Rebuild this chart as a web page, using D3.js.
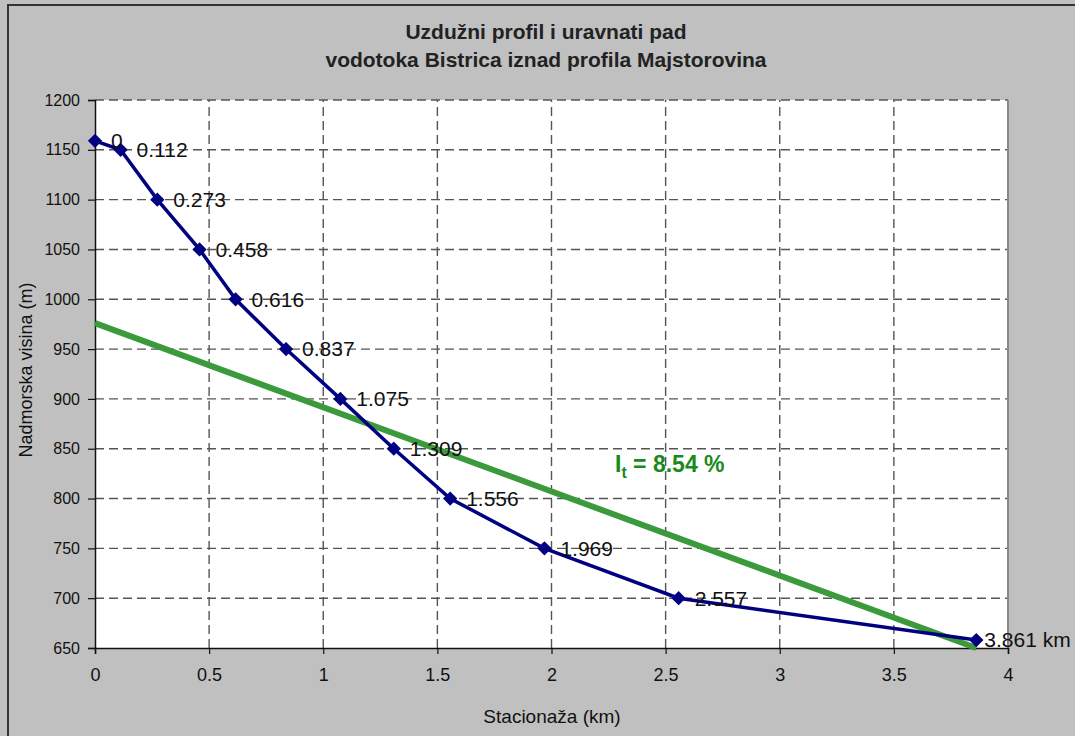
<!DOCTYPE html>
<html>
<head>
<meta charset="utf-8">
<script src="https://cdn.jsdelivr.net/npm/d3@7"></script>
<style>
  body { margin: 0; background: #c0c0c0; }
  svg { display: block; font-family: Arial, "Liberation Sans", sans-serif; }
</style>
</head>
<body>
<svg></svg>
<script>
// stacionaza (km) and elevation (m)
var stations = [0, 0.112, 0.273, 0.458, 0.616, 0.837, 1.075, 1.309, 1.556, 1.969, 2.557, 3.861];
var elevations = [1159, 1150, 1100, 1050, 1000, 950, 900, 850, 800, 750, 700, 658];
var pointLabels = ["0", "0.112", "0.273", "0.458", "0.616", "0.837", "1.075", "1.309", "1.556", "1.969", "2.557", "3.861 km"];

// equalized slope line
var slopeX = [0, 3.861];
var slopeY = [976, 650];

var xTicks = [0, 0.5, 1, 1.5, 2, 2.5, 3, 3.5, 4];
var yTicks = [650, 700, 750, 800, 850, 900, 950, 1000, 1050, 1100, 1150, 1200];

var width = 1075;
var height = 736;

var svg = d3.select("svg")
        .attr("width", width)
        .attr("height", height);

var padding = {
  left: 95,
  right: 67,
  top: 100,
  bottom: 88
};

// chart frame
svg.append("rect")
   .attr("x", 8).attr("y", 5)
   .attr("width", width).attr("height", height)
   .attr("fill", "#c0c0c0")
   .attr("stroke", "#333")
   .attr("stroke-width", 2);

var xScale = d3.scaleLinear()
               .domain([0, 4])
               .range([padding.left, width - padding.right]);

var yScale = d3.scaleLinear()
               .domain([650, 1200])
               .range([height - padding.bottom, padding.top]);

// plot area
svg.append("rect")
   .attr("x", xScale(0)).attr("y", yScale(1200))
   .attr("width", xScale(4) - xScale(0))
   .attr("height", yScale(650) - yScale(1200))
   .attr("fill", "white");

// grid
svg.append("g")
   .selectAll("line")
   .data(yTicks.slice(1))
   .enter()
   .append("line")
   .attr("x1", xScale(0)).attr("x2", xScale(4))
   .attr("y1", function(d){ return yScale(d); })
   .attr("y2", function(d){ return yScale(d); })
   .attr("stroke", "#555")
   .attr("stroke-width", 1.4)
   .attr("stroke-dasharray", "9,5");

svg.append("g")
   .selectAll("line")
   .data(xTicks.slice(1, -1))
   .enter()
   .append("line")
   .attr("y1", yScale(650)).attr("y2", yScale(1200))
   .attr("x1", function(d){ return xScale(d); })
   .attr("x2", function(d){ return xScale(d); })
   .attr("stroke", "#555")
   .attr("stroke-width", 1.4)
   .attr("stroke-dasharray", "9,5");

// right border of plot area
svg.append("line")
   .attr("x1", xScale(4)).attr("x2", xScale(4))
   .attr("y1", yScale(650)).attr("y2", yScale(1200))
   .attr("stroke", "#888")
   .attr("stroke-width", 2);

// axes
var xAxis = d3.axisBottom()
              .scale(xScale)
              .tickValues(xTicks)
              .tickFormat(d3.format(""))
              .tickSizeOuter(0)
              .tickSize(6)
              .tickPadding(14);

var yAxis = d3.axisLeft()
              .scale(yScale)
              .tickValues(yTicks)
              .tickFormat(d3.format("d"))
              .tickSizeOuter(0)
              .tickSize(7)
              .tickPadding(8);

var gx = svg.append("g")
   .attr("transform", "translate(0," + yScale(650) + ")")
   .call(xAxis);

var gy = svg.append("g")
   .attr("transform", "translate(" + xScale(0) + ",0)")
   .call(yAxis);

[gx, gy].forEach(function(g){
  g.selectAll("path").attr("stroke", "#111").attr("stroke-width", 1.5);
  g.selectAll("line").attr("stroke", "#111").attr("stroke-width", 1.2);
  g.selectAll("text").attr("font-size", 16).attr("fill", "#111")
   .attr("font-family", "Arial, 'Liberation Sans', sans-serif");
});
gx.selectAll("text").attr("font-size", 18);

// slope line
var slopeLine = d3.line()
                  .x(function(d){ return xScale(d[0]); })
                  .y(function(d){ return yScale(d[1]); });

svg.append("path")
   .datum(d3.zip(slopeX, slopeY))
   .attr("d", slopeLine)
   .attr("fill", "none")
   .attr("stroke", "#3b9a3b")
   .attr("stroke-width", 6);

// profile
var data = stations.map(function(s, i){
  return {x: s, y: elevations[i], label: pointLabels[i]};
});

var line = d3.line()
             .x(function(d){ return xScale(d.x); })
             .y(function(d){ return yScale(d.y); });

svg.append("path")
   .datum(data)
   .attr("d", line)
   .attr("fill", "none")
   .attr("stroke", "#000080")
   .attr("stroke-width", 3.5);

svg.selectAll(".marker")
   .data(data)
   .enter()
   .append("path")
   .attr("class", "marker")
   .attr("d", d3.symbol().type(d3.symbolDiamond2).size(130))
   .attr("transform", function(d){ return "translate(" + xScale(d.x) + "," + yScale(d.y) + ")"; })
   .attr("fill", "#000080");

// last label pulled in so it fits at the right edge
svg.selectAll(".plabel")
   .data(data)
   .enter()
   .append("text")
   .attr("class", "plabel")
   .attr("x", function(d, i){ return xScale(d.x) + (i == data.length - 1 ? 8 : 16); })
   .attr("y", function(d){ return yScale(d.y); })
   .attr("dy", "0.35em")
   .attr("font-size", 21)
   .attr("fill", "#111")
   .text(function(d){ return d.label; });

// slope annotation
var ann = svg.append("text")
   .attr("x", 615)
   .attr("y", 472)
   .attr("font-size", 23)
   .attr("font-weight", "bold")
   .attr("fill", "#1a8a1a");
ann.append("tspan").text("I");
ann.append("tspan").attr("font-size", 16).attr("dy", 6).text("t");
ann.append("tspan").attr("dy", -6).text(" = 8.54 %");

// titles
svg.append("text")
   .attr("x", 546).attr("y", 39)
   .attr("text-anchor", "middle")
   .attr("font-size", 21)
   .attr("font-weight", "bold")
   .attr("fill", "#222")
   .text("Uzdužni profil i uravnati pad");

svg.append("text")
   .attr("x", 546).attr("y", 67)
   .attr("text-anchor", "middle")
   .attr("font-size", 21)
   .attr("font-weight", "bold")
   .attr("fill", "#222")
   .text("vodotoka Bistrica iznad profila Majstorovina");

svg.append("text")
   .attr("x", 552).attr("y", 723)
   .attr("text-anchor", "middle")
   .attr("font-size", 19)
   .attr("fill", "#111")
   .text("Stacionaža (km)");

svg.append("text")
   .attr("transform", "translate(32,370) rotate(-90)")
   .attr("text-anchor", "middle")
   .attr("font-size", 18)
   .attr("fill", "#111")
   .text("Nadmorska visina (m)");
</script>
</body>
</html>
